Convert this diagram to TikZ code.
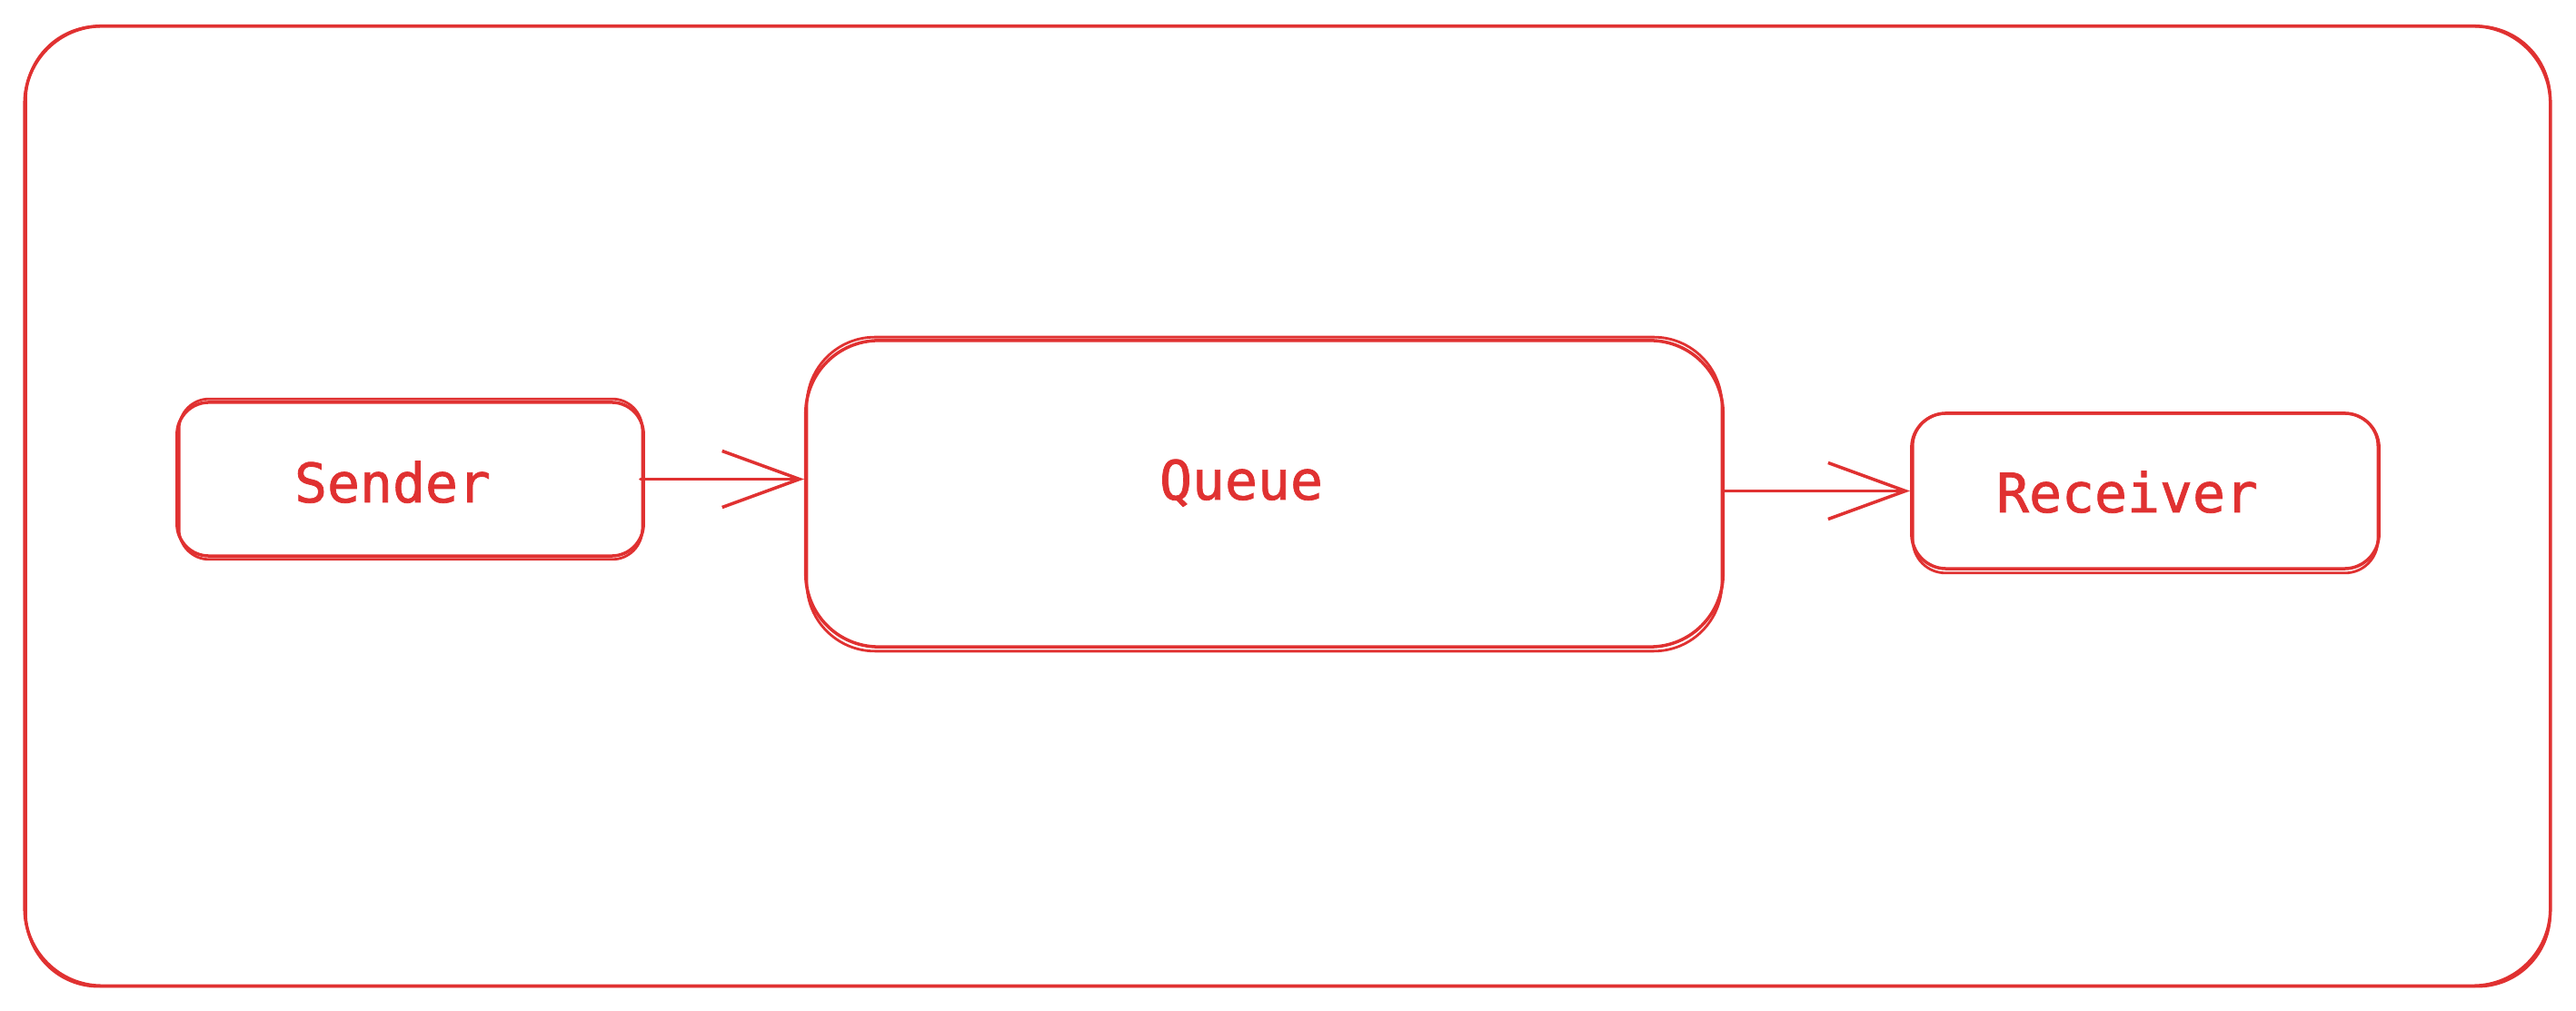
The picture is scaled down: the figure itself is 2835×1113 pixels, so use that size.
\documentclass[tikz,border=0pt]{standalone}
\usepackage{fontspec}
\newfontfamily\labelfont{DejaVu Sans Mono}[FakeBold=1.2]
\usetikzlibrary{arrows.meta,calc}
\definecolor{exred}{RGB}{224,49,49}
\begin{document}
\begin{tikzpicture}[x=0.01cm,y=-0.01cm,
  sk/.style={draw=exred, line width=1pt, line cap=round, line join=round},
  boxsk/.style={sk, rectangle, inner sep=0pt},
  lbl/.style={text=exred, font=\labelfont\fontsize{17}{20}\selectfont, anchor=base, inner sep=0pt},
  conn/.style={sk, -{Straight Barb[length=0.85cm,width=0.62cm]}}]
\useasboundingbox (0,0) rectangle (2835,1113);
% outer frame
\node[boxsk, rounded corners=0.85cm, minimum width=27.78cm, minimum height=10.56cm] (frame) at (1417,557) {};
\draw[sk, line width=0.8pt, rounded corners=0.8cm] ($(frame.north west)+(3,2)$) rectangle ($(frame.south east)+(-2,-1)$);
% boxes
\node[boxsk, rounded corners=0.35cm, minimum width=5.13cm, minimum height=1.69cm] (s) at (451.5,527.5) {};
\draw[sk, line width=0.8pt, rounded corners=0.33cm] ($(s.north west)+(4,-2)$) rectangle ($(s.south east)+(-3,2)$);
\node[boxsk, rounded corners=0.8cm, minimum width=10.09cm, minimum height=3.37cm] (q) at (1391.5,543.5) {};
\draw[sk, line width=0.8pt, rounded corners=0.75cm] ($(q.north west)+(3,-2)$) rectangle ($(q.south east)+(-3,3)$);
\node[boxsk, rounded corners=0.38cm, minimum width=5.14cm, minimum height=1.71cm] (r) at (2361,540.5) {};
\draw[sk, line width=0.8pt, rounded corners=0.36cm] ($(r.north west)+(3,2)$) rectangle ($(r.south east)+(-3,3)$);
% labels
\node[lbl] (stxt) at (432,553) {Sender};
\node[lbl] (qtxt) at (1366,550) {Queue};
\node[lbl] (rtxt) at (2341,564) {Receiver};
% connectors
\draw[conn] ([xshift=-0.05cm]s.east) -- (s.east -| q.west);
\draw[conn] (r.west -| q.east) -- (r.west);
\end{tikzpicture}
\end{document}
